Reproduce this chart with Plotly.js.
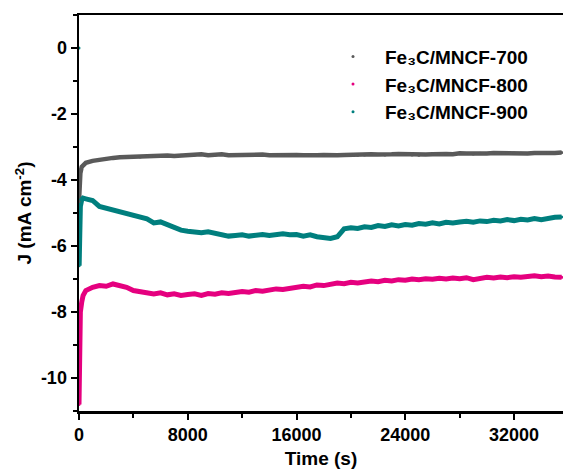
<!DOCTYPE html>
<html>
<head>
<meta charset="utf-8">
<script src="https://cdn.plot.ly/plotly-3.0.1.min.js"></script>
<style>html,body{margin:0;padding:0;background:#fff;}#chart{width:563px;height:476px;}</style>
</head>
<body>
<div id="chart"></div>
<script>
// Shared time grid (s) after the initial transient
var tMain = [500,1000,1500,2000,2500,3000,3500,4000,4500,5000,5500,6000,6500,7000,7500,8000,8500,9000,9500,10000,
10500,11000,11500,12000,12500,13000,13500,14000,14500,15000,15500,16000,16500,17000,17500,18000,18500,19000,19500,20000,
20500,21000,21500,22000,22500,23000,23500,24000,24500,25000,25500,26000,26500,27000,27500,28000,28500,29000,29500,30000,
30500,31000,31500,32000,32500,33000,33500,34000,34500,35000,35500];

// Fe3C/MNCF-700
var t700early = [0,20,50,100,200,300];
var j700early = [-4.65,-4.3,-4.0,-3.8,-3.6,-3.55];
var j700main = [-3.48,-3.42,-3.38,-3.36,-3.33,-3.31,-3.30,-3.29,-3.30,-3.28,-3.27,-3.28,-3.26,-3.27,-3.25,-3.26,-3.24,-3.22,-3.25,-3.24,
-3.22,-3.25,-3.24,-3.26,-3.25,-3.24,-3.23,-3.25,-3.24,-3.23,-3.25,-3.24,-3.25,-3.26,-3.25,-3.24,-3.26,-3.25,-3.24,-3.23,
-3.25,-3.24,-3.22,-3.23,-3.24,-3.22,-3.21,-3.22,-3.24,-3.25,-3.23,-3.22,-3.20,-3.21,-3.22,-3.19,-3.20,-3.21,-3.19,-3.20,
-3.18,-3.19,-3.20,-3.18,-3.19,-3.20,-3.18,-3.19,-3.17,-3.18,-3.17];

// Fe3C/MNCF-800
var t800early = [0,10,20,40,60,100,200,300];
var j800early = [-10.8,-10.0,-9.5,-9.0,-8.5,-8.0,-7.7,-7.5];
var j800main = [-7.35,-7.25,-7.20,-7.22,-7.15,-7.20,-7.25,-7.35,-7.38,-7.40,-7.45,-7.42,-7.48,-7.45,-7.50,-7.47,-7.45,-7.50,-7.44,-7.46,
-7.42,-7.44,-7.40,-7.38,-7.40,-7.35,-7.37,-7.33,-7.30,-7.32,-7.28,-7.25,-7.22,-7.24,-7.18,-7.20,-7.15,-7.12,-7.14,-7.10,
-7.12,-7.08,-7.06,-7.08,-7.04,-7.06,-7.02,-7.04,-7.00,-7.02,-6.99,-7.01,-6.98,-7.00,-6.97,-6.99,-6.96,-7.02,-6.97,-6.95,
-6.97,-6.94,-6.96,-6.93,-6.95,-6.92,-6.90,-6.93,-6.91,-6.94,-6.95];

// Fe3C/MNCF-900
var t900early = [0,10,30,60,100,200,300];
var j900early = [0,-6.6,-6.0,-5.3,-4.8,-4.6,-4.55];
var j900main = [-4.57,-4.62,-4.80,-4.85,-4.92,-4.97,-5.02,-5.08,-5.12,-5.18,-5.30,-5.27,-5.35,-5.45,-5.52,-5.55,-5.58,-5.60,-5.57,-5.62,
-5.65,-5.70,-5.68,-5.66,-5.70,-5.67,-5.65,-5.68,-5.66,-5.63,-5.66,-5.65,-5.70,-5.66,-5.72,-5.74,-5.77,-5.72,-5.48,-5.45,
-5.47,-5.42,-5.44,-5.38,-5.41,-5.36,-5.39,-5.35,-5.37,-5.32,-5.34,-5.30,-5.33,-5.28,-5.30,-5.27,-5.25,-5.28,-5.24,-5.26,
-5.22,-5.24,-5.20,-5.23,-5.19,-5.21,-5.17,-5.20,-5.16,-5.13,-5.12];

var names = ['Fe\u2083C/MNCF-700','Fe\u2083C/MNCF-800','Fe\u2083C/MNCF-900'];
var colors = ['#5a5a5a','#e5007f','#007f7e'];
var widths = [4.5, 5, 5];

var xTickVals = [0, 8000, 16000, 24000, 32000];
var xTickText = ['0', '8000', '16000', '24000', '32000'];
var yTickVals = [-10, -8, -6, -4, -2, 0];
var yTickText = ['-10', '-8', '-6', '-4', '-2', '0'];

var series = [
  {t: t700early.concat(tMain), j: j700early.concat(j700main), skip: 0},
  {t: t800early.concat(tMain), j: j800early.concat(j800main), skip: 0},
  {t: t900early.concat(tMain), j: j900early.concat(j900main), skip: 1}
];

var traces = [];
series.forEach(function(s, i){
  traces.push({x: s.t.slice(s.skip), y: s.j.slice(s.skip), type: 'scatter', mode: 'lines',
    line: {color: colors[i], width: widths[i]}, showlegend: false, hoverinfo: 'skip'});
});
series.forEach(function(s, i){
  traces.push({x: s.t, y: s.j, type: 'scatter', mode: 'markers', name: names[i],
    marker: {color: colors[i], size: 3}});
});

var fam = 'Liberation Sans, Arial, sans-serif';
var fnt = {family: fam, size: 18, color: '#000', weight: 'bold'};

var layout = {
  width: 563, height: 476,
  margin: {l: 79, r: 0, t: 15, b: 65},
  paper_bgcolor: '#fff', plot_bgcolor: '#fff',
  font: fnt,
  showlegend: true,
  legend: {x: 0.5, y: 0.943, xanchor: 'left', yanchor: 'top', bgcolor: 'rgba(0,0,0,0)',
    font: {family: fam, size: 19, color: '#000', weight: 'bold'},
    itemwidth: 54, tracegroupgap: 0},
  xaxis: {
    range: [0, 35600], tickmode: 'array', tickvals: xTickVals, ticktext: xTickText,
    showgrid: false, zeroline: false, showline: true, linecolor: '#000', linewidth: 2.5, mirror: true,
    ticks: 'outside', ticklen: 6, tickwidth: 2, tickcolor: '#000',
    minor: {tickvals: [4000, 12000, 20000, 28000], ticks: 'outside', ticklen: 4, tickwidth: 2, tickcolor: '#000', showgrid: false},
    tickfont: fnt,
    title: {text: 'Time (s)', font: {family: fam, size: 19, color: '#000', weight: 'bold'}, standoff: 8}
  },
  yaxis: {
    range: [-11, 1], tickmode: 'array', tickvals: yTickVals, ticktext: yTickText,
    showgrid: false, zeroline: false, showline: true, linecolor: '#000', linewidth: 2.5,
    ticks: 'outside', ticklen: 6, tickwidth: 2, tickcolor: '#000',
    minor: {tickvals: [-11, -9, -7, -5, -3, -1, 1], ticks: 'outside', ticklen: 4, tickwidth: 2, tickcolor: '#000', showgrid: false},
    tickfont: fnt,
    title: {text: 'J (mA cm<sup>-2</sup>)', font: {family: fam, size: 19, color: '#000', weight: 'bold'}, standoff: 4}
  }
};

Plotly.newPlot('chart', traces, layout, {displayModeBar: false, staticPlot: true});
</script>
</body>
</html>
